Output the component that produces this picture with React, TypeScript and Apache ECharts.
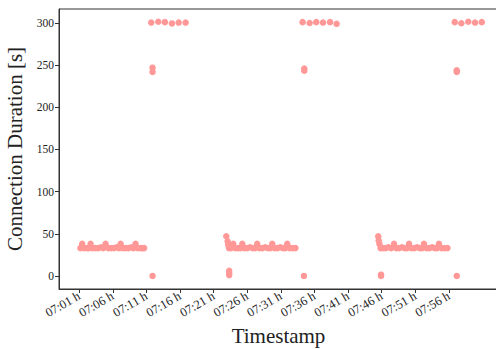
import React, { useEffect, useRef } from "react";
import * as echarts from "echarts";

// ---- tick labels ----
const xTickLabels = [
  "07:01 h", "07:06 h", "07:11 h", "07:16 h", "07:21 h", "07:26 h",
  "07:31 h", "07:36 h", "07:41 h", "07:46 h", "07:51 h", "07:56 h",
];
const yTickValues = [0, 50, 100, 150, 200, 250, 300];

// ---- session 1 (steady ~33 s connections) ----
const session1Times = [
  "07:01:11", "07:01:27", "07:01:45", "07:02:10", "07:02:25", "07:02:42", "07:03:00",
  "07:03:25", "07:03:50", "07:04:15", "07:04:35", "07:04:56", "07:05:20", "07:05:45",
  "07:06:10", "07:06:35", "07:06:55", "07:07:10", "07:07:30", "07:07:55", "07:08:20",
  "07:08:45", "07:09:05", "07:09:23", "07:09:45", "07:10:10", "07:10:25", "07:10:40",
];
const session1Durations = [
  33, 38, 33, 33, 33, 38, 33,
  33, 33, 34, 33, 38, 33, 33,
  33, 34, 33, 38, 33, 33, 33,
  34, 33, 38, 33, 33, 33, 33,
];

// ---- session 2 ----
const session2Times = [
  "07:22:53", "07:23:05", "07:23:10", "07:23:17", "07:23:35", "07:23:55", "07:24:15",
  "07:24:40", "07:25:00", "07:25:16", "07:25:35", "07:26:00", "07:26:25", "07:26:50",
  "07:27:10", "07:27:29", "07:27:50", "07:28:15", "07:28:40", "07:29:05", "07:29:25",
  "07:29:43", "07:30:05", "07:30:30", "07:30:55", "07:31:20", "07:31:40", "07:31:57",
  "07:32:20", "07:32:45", "07:33:10",
];
const session2Durations = [
  47, 41, 37, 33, 33, 38, 33,
  33, 33, 38, 33, 33, 34, 33,
  33, 38, 33, 33, 34, 33, 33,
  38, 33, 33, 34, 33, 33, 38,
  33, 33, 33,
];

// ---- session 3 ----
const session3Times = [
  "07:45:29", "07:45:33", "07:45:40", "07:45:50", "07:46:10", "07:46:35", "07:47:00",
  "07:47:25", "07:47:50", "07:48:10", "07:48:35", "07:49:00", "07:49:25", "07:49:45",
  "07:50:04", "07:50:25", "07:50:50", "07:51:15", "07:51:40", "07:52:00", "07:52:17",
  "07:52:40", "07:53:05", "07:53:30", "07:53:55", "07:54:15", "07:54:31", "07:54:55",
  "07:55:20", "07:55:47",
];
const session3Durations = [
  47, 42, 38, 33, 33, 33, 34,
  33, 38, 33, 33, 34, 33, 33,
  38, 33, 33, 34, 33, 33, 38,
  33, 33, 34, 33, 33, 38, 33,
  33, 33,
];

// ---- dropped / near-zero connections ----
const dropTimes = [
  "07:11:55", "07:23:19", "07:23:19", "07:23:19", "07:34:26", "07:45:54", "07:45:54", "07:57:10",
];
const dropDurations = [0, 1, 3.5, 6, 0, 0, 1.5, 0];

// ---- long connections (~245 s) ----
const longTimes = ["07:11:55", "07:11:55", "07:34:29", "07:34:29", "07:57:10", "07:57:10"];
const longDurations = [247, 242, 246, 243.5, 244, 242];

// ---- timeouts (~300 s) ----
const timeoutTimes = [
  "07:11:43", "07:12:46", "07:13:45", "07:14:48", "07:15:48", "07:16:50",
  "07:34:14", "07:35:17", "07:36:16", "07:37:16", "07:38:19", "07:39:18",
  "07:56:52", "07:57:51", "07:58:53", "07:59:53", "08:00:53",
];
const timeoutDurations = [
  300.5, 301.5, 301, 299.5, 300.5, 300.5,
  301, 300, 301, 300.5, 301, 299,
  301, 299.7, 301.5, 300.5, 301,
];

// minutes since 07:00
const toMin = (s: string) => {
  const parts = s.replace(" h", "").split(":").map(Number);
  const sec = parts.length > 2 ? parts[2] : 0;
  return (parts[0] - 7) * 60 + parts[1] + sec / 60;
};

const pairs = (times: string[], vals: number[]) => times.map((t, i) => [toMin(t), vals[i]]);

const fmtMin = (v: number) => {
  const total = Math.round(v);
  const h = 7 + Math.floor(total / 60);
  const m = ((total % 60) + 60) % 60;
  return `${String(h).padStart(2, "0")}:${String(m).padStart(2, "0")} h`;
};

const FONT = "'Liberation Serif', 'DejaVu Serif', serif";
const AXIS_COLOR = "#333";
const DOT = "#ff9896";

export default function App() {
  const ref = useRef<HTMLDivElement>(null);
  useEffect(() => {
    document.body.style.margin = "0";
    if (!ref.current) return;
    const chart = echarts.init(ref.current, undefined, { renderer: "svg" });
    const xTicks = xTickLabels.map(toMin);
    const data = [
      ...pairs(session1Times, session1Durations),
      ...pairs(session2Times, session2Durations),
      ...pairs(session3Times, session3Durations),
      ...pairs(dropTimes, dropDurations),
      ...pairs(longTimes, longDurations),
      ...pairs(timeoutTimes, timeoutDurations),
    ];
    chart.setOption({
      animation: false,
      backgroundColor: "#fff",
      grid: {
        left: 59,
        right: -2,
        top: 9,
        bottom: 60,
        show: true,
        borderColor: AXIS_COLOR,
        borderWidth: 1,
        containLabel: false,
        outerBoundsMode: "none",
      },
      xAxis: {
        type: "value",
        min: -2,
        max: 63.3,
        axisLine: { show: true, onZero: false, lineStyle: { color: AXIS_COLOR, width: 1 } },
        axisTick: { show: true, customValues: xTicks, length: 4, lineStyle: { color: AXIS_COLOR } },
        axisLabel: {
          customValues: xTicks,
          rotate: 30,
          margin: 6,
          formatter: (v: number) => fmtMin(v),
          fontFamily: FONT,
          fontSize: 12.5,
          color: "#222",
        },
        splitLine: { show: false },
        name: "Timestamp",
        nameLocation: "middle",
        nameGap: 36,
        nameTextStyle: { fontFamily: FONT, fontSize: 21, color: "#222" },
      },
      yAxis: {
        type: "value",
        min: -15.5,
        max: 316.6,
        axisLine: { show: true, onZero: false, lineStyle: { color: AXIS_COLOR, width: 1 } },
        axisTick: { show: true, customValues: yTickValues, length: 4, lineStyle: { color: AXIS_COLOR } },
        axisLabel: {
          customValues: yTickValues,
          margin: 5,
          fontFamily: FONT,
          fontSize: 11.5,
          color: "#222",
        },
        splitLine: { show: false },
        name: "Connection Duration [s]",
        nameLocation: "middle",
        nameGap: 22,
        nameTextStyle: { fontFamily: FONT, fontSize: 21, color: "#222" },
      },
      series: [
        {
          type: "scatter",
          data,
          symbol: "circle",
          symbolSize: 6.5,
          itemStyle: { color: DOT, opacity: 1 },
        },
      ],
    });
    return () => chart.dispose();
  }, []);
  return <div ref={ref} style={{ width: 496, height: 349 }} />;
}
